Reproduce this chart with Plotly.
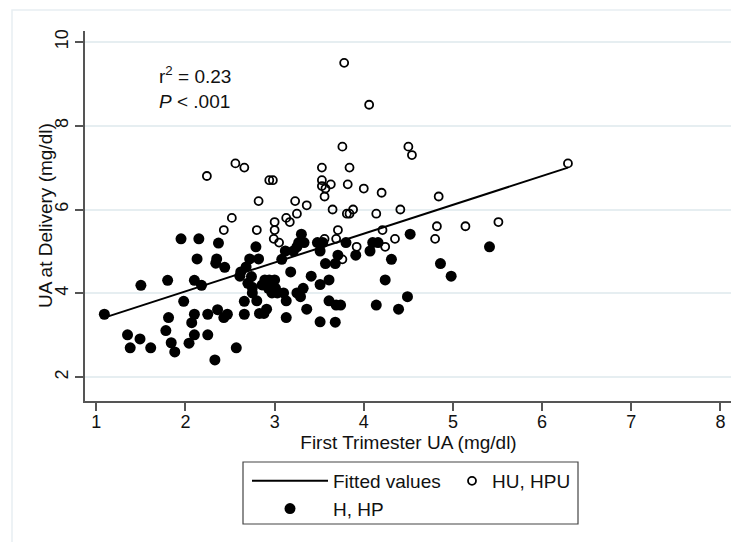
import plotly.graph_objects as go

# ---- data ----
# H, HP group (filled dots)
h_x = [1.09, 1.35, 1.38, 1.49, 1.50, 1.61, 1.78, 1.80, 1.81, 1.84, 1.88, 1.95, 1.98, 2.04, 2.07,
       2.10, 2.10, 2.10, 2.13, 2.15, 2.18, 2.25, 2.25, 2.33, 2.34, 2.35, 2.37, 2.36, 2.44, 2.43,
       2.47, 2.57,
       2.61, 2.62, 2.66, 2.66, 2.68, 2.72, 2.74, 2.70, 2.75, 2.75, 2.79, 2.82, 2.80, 2.83, 2.88,
       2.91, 2.86, 2.89, 2.94, 2.93, 2.97, 3.00, 2.97, 3.01, 3.03, 3.10, 3.08, 3.12, 3.13, 3.13,
       3.18,
       3.21, 3.25, 3.27, 3.30, 3.33, 3.25, 3.29, 3.32, 3.36, 3.41, 3.48, 3.51, 3.54, 3.51, 3.51,
       3.57,
       3.61, 3.61, 3.69, 3.74, 3.68, 3.68, 3.71, 3.80, 3.91,
       4.07, 4.10, 4.16, 4.52, 4.31, 4.24, 4.14, 4.39, 4.49, 4.86, 4.98, 5.41]
h_y = [3.50, 3.01, 2.70, 2.91, 4.19, 2.70, 3.11, 4.31, 3.42, 2.82, 2.60, 5.30, 3.81, 2.81, 3.30,
       3.50, 3.01, 4.31, 4.82, 5.30, 4.19, 3.50, 3.01, 2.41, 4.72, 4.82, 5.20, 3.61, 4.62, 3.42,
       3.50, 2.70,
       4.41, 4.51, 3.81, 3.50, 4.63, 4.82, 4.40, 4.24, 4.14, 4.01, 5.11, 4.82, 3.82, 3.52, 3.52,
       3.62, 4.20, 4.32, 4.32, 4.12, 4.20, 4.32, 4.01, 4.12, 4.01, 4.01, 4.81, 5.01, 3.82, 3.42,
       4.51,
       5.01, 5.11, 5.21, 5.41, 5.21, 4.01, 3.92, 4.12, 3.62, 4.41, 5.21, 5.01, 5.21, 4.21, 3.32,
       4.71,
       4.32, 3.82, 3.72, 3.72, 3.31, 4.71, 4.91, 5.21, 4.91,
       5.01, 5.21, 5.21, 5.41, 4.81, 4.32, 3.72, 3.62, 3.92, 4.71, 4.41, 5.11]

# HU, HPU group (open circles)
hu_x = [3.78, 4.06, 3.76, 4.50, 4.54, 2.56, 2.66, 2.24, 3.53, 3.84, 6.29, 2.94, 2.98, 3.53,
        3.53, 3.57, 3.63, 3.82, 3.56, 4.00, 4.20, 4.84, 2.82, 3.23, 3.36, 3.65, 3.88, 4.41,
        3.25, 3.81, 3.84, 4.14, 2.52, 3.13, 3.17, 3.00, 5.51, 5.14, 4.82, 2.43, 2.80, 3.00,
        3.71, 4.21, 2.99, 3.05, 3.69, 3.56, 4.35, 4.80, 3.92, 4.24, 3.76]
hu_y = [9.50, 8.50, 7.50, 7.50, 7.30, 7.10, 7.00, 6.80, 7.00, 7.00, 7.10, 6.70, 6.70, 6.70,
        6.56, 6.50, 6.60, 6.60, 6.31, 6.50, 6.40, 6.31, 6.20, 6.20, 6.10, 6.00, 6.00, 6.00,
        5.90, 5.90, 5.90, 5.90, 5.80, 5.80, 5.70, 5.70, 5.70, 5.60, 5.60, 5.51, 5.51, 5.51,
        5.51, 5.51, 5.30, 5.21, 5.30, 5.30, 5.30, 5.30, 5.11, 5.11, 4.81]

# fitted regression line end points
fit_x = [1.09, 6.29]
fit_y = [3.42, 7.00]

x_ticks = [1, 2, 3, 4, 5, 6, 7, 8]
y_ticks = [2, 4, 6, 8, 10]

# ---- layout helpers (page places the figure 8px in from the corner) ----
FONT = "Liberation Sans, Arial, Helvetica, sans-serif"
OFF = 8
W, H = 739 - OFF, 542 - OFF
PLOT_L, PLOT_R, PLOT_T, PLOT_B = 85, 732, 31, 401   # plot area in screen pixels
L = PLOT_L - OFF
T = PLOT_T - OFF
R = W - (PLOT_R - OFF)
B = H - (PLOT_B - OFF)
PW, PH = W - L - R, H - T - B


def px_x(px):
    return (px - OFF - L) / PW


def px_y(py):
    return (H - B - (py - OFF)) / PH


fig = go.Figure()
fig.add_trace(go.Scatter(
    x=h_x, y=h_y, mode="markers", name="H, HP",
    marker=dict(color="black", size=11, line=dict(width=0)),
    legend="legend", legendrank=2,
))
fig.add_trace(go.Scatter(
    x=hu_x, y=hu_y, mode="markers", name="HU, HPU",
    marker=dict(symbol="circle-open", color="black", size=8, line=dict(width=1.8)),
    legend="legend2",
))
fig.add_trace(go.Scatter(
    x=fit_x, y=fit_y, mode="lines", name="Fitted values",
    line=dict(color="black", width=2),
    legend="legend", legendrank=1,
))

grid_c = "#e6eef1"
axis_c = "#555555"

fig.update_layout(
    width=W, height=H,
    margin=dict(l=L, r=R, t=T, b=B),
    paper_bgcolor="white", plot_bgcolor="white",
    font=dict(family=FONT, size=19, color="#111111"),
    xaxis=dict(
        range=[0.873, 8.13], tickvals=x_ticks, ticks="outside", ticklen=8,
        tickcolor=axis_c, tickwidth=1.5, showline=True, linecolor=axis_c, linewidth=1.5,
        showgrid=False, zeroline=False, tickfont=dict(size=18), ticklabelstandoff=-4,
        title=dict(text="First Trimester UA (mg/dl)", font=dict(size=19), standoff=0),
    ),
    yaxis=dict(
        range=[1.43, 10.26], tickvals=y_ticks, ticks="outside", ticklen=8,
        tickcolor=axis_c, tickwidth=1.5, showline=True, linecolor=axis_c, linewidth=1.5,
        showgrid=True, gridcolor=grid_c, gridwidth=1.5, zeroline=False,
        tickangle=-90, tickfont=dict(size=18),
    ),
    legend=dict(
        x=px_x(247), y=px_y(462), xanchor="left", yanchor="top",
        orientation="v", itemwidth=76, font=dict(size=19),
        bgcolor="rgba(0,0,0,0)", borderwidth=0, tracegroupgap=0,
    ),
    legend2=dict(
        x=px_x(452), y=px_y(462), xanchor="left", yanchor="top",
        orientation="v", itemwidth=30, font=dict(size=19),
        bgcolor="rgba(0,0,0,0)", borderwidth=0,
    ),
    showlegend=True,
    annotations=[
        dict(
            x=1.68, y=9.54, xref="x", yref="y", xanchor="left", yanchor="top",
            text="r<sup>2</sup> = 0.23<br><i>P</i> &lt; .001", align="left",
            showarrow=False, font=dict(size=19),
        ),
        dict(
            x=px_x(45), y=0.5, xref="paper", yref="paper", xanchor="center", yanchor="middle",
            text="UA at Delivery (mg/dl)", textangle=-90, showarrow=False,
            font=dict(size=19),
        ),
    ],
    shapes=[
        # legend frame
        dict(type="rect", xref="paper", yref="paper",
             x0=px_x(243), x1=px_x(578), y0=px_y(524), y1=px_y(462),
             line=dict(color="#444444", width=1.2), fillcolor="rgba(0,0,0,0)"),
        # outer graph-region frame
        dict(type="rect", xref="paper", yref="paper",
             x0=px_x(12), x1=px_x(780), y0=px_y(580), y1=px_y(10),
             line=dict(color="#e8eef2", width=1.5), fillcolor="rgba(0,0,0,0)", layer="below"),
    ],
)

fig.write_html("out.html")
